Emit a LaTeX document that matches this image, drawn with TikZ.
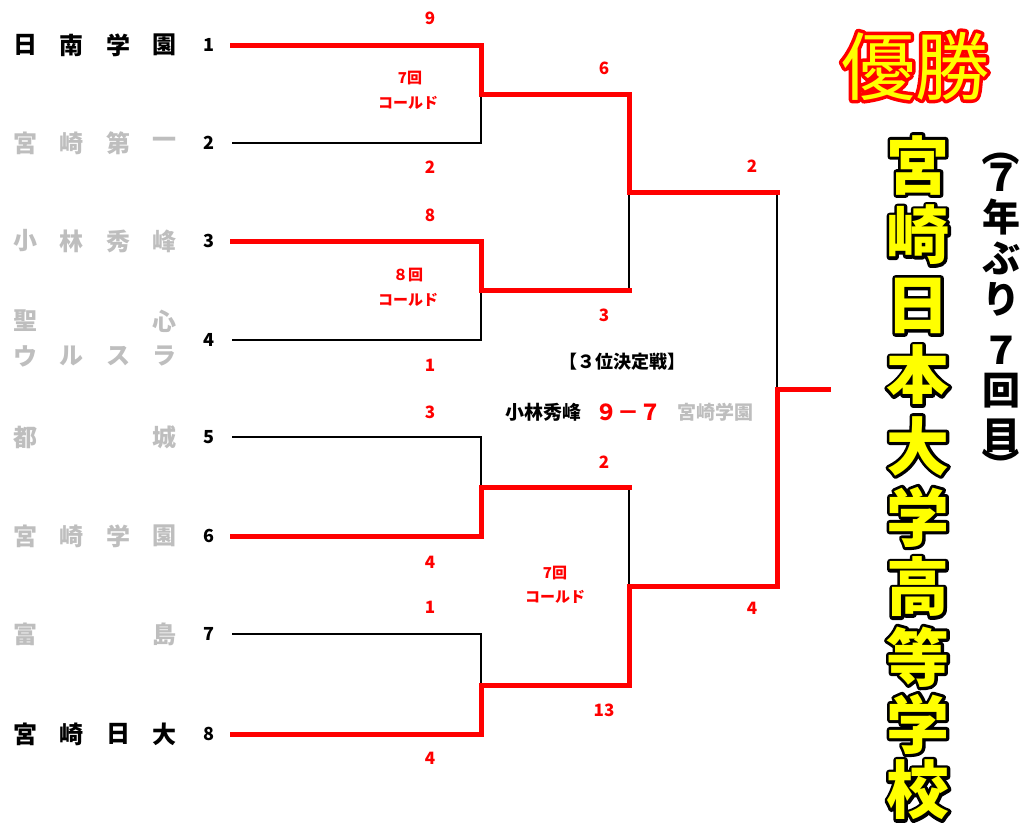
\documentclass[tikz,border=0pt]{standalone}
\usepackage{fontspec}
\newfontfamily\jp{Noto Sans CJK JP}
\usetikzlibrary{calc}
\definecolor{lg}{RGB}{190,190,190}
\definecolor{rd}{RGB}{255,0,0}
\definecolor{yl}{RGB}{255,255,0}
\definecolor{shd}{RGB}{200,200,200}
\tikzset{
  team/.style={font=\jp\bfseries\fontsize{24}{24}\selectfont},
  seed/.style={font=\jp\bfseries\fontsize{18}{18}\selectfont},
  score/.style={font=\jp\bfseries\fontsize{17}{17}\selectfont, text=rd},
  cold/.style={font=\jp\bfseries\fontsize{15}{15}\selectfont, text=rd},
  win/.style={line width=5pt, draw=rd, line join=miter, line cap=rect},
  lose/.style={line width=1.5pt, draw=black},
  huge/.style={font=\jp\fontsize{74}{74}\selectfont},
  vert/.style={font=\jp\bfseries\fontsize{63}{63}\selectfont},
  paren/.style={font=\jp\bfseries\fontsize{38}{38}\selectfont},
  third/.style={font=\jp\bfseries\fontsize{19}{19}\selectfont},
}
% stroke-only text: #1 stroke colour (r g b), #2 width, #3 text
\newcommand\strk[3]{\special{pdf:literal direct 1 Tr #2 w 1 j 1 J #1 RG}#3\special{pdf:literal direct 0 Tr}}
\begin{document}
\begin{tikzpicture}[x=1pt,y=-1pt, every node/.style={inner sep=0pt, font=\jp}]
\useasboundingbox[fill=white] (0,0) rectangle (1025,830);

% ---- team names ----
\foreach \c/\x [count=\i] in {日/25,南/71,学/118,園/164}{\node[team] (ta\i) at (\x,45) {\c};}
\foreach \c/\x [count=\i] in {宮/25,崎/71,第/118,一/164}{\node[team,text=lg] (tb\i) at (\x,143) {\c};}
\foreach \c/\x [count=\i] in {小/25,林/71,秀/118,峰/164}{\node[team,text=lg] (tc\i) at (\x,241) {\c};}
\foreach \c/\x [count=\i] in {聖/25,心/164}{\node[team,text=lg] (td\i) at (\x,321) {\c};}
\foreach \c/\x [count=\i] in {ウ/25,ル/71,ス/118,ラ/164}{\node[team,text=lg] (te\i) at (\x,356) {\c};}
\foreach \c/\x [count=\i] in {都/25,城/164}{\node[team,text=lg] (tf\i) at (\x,437) {\c};}
\foreach \c/\x [count=\i] in {宮/25,崎/71,学/118,園/164}{\node[team,text=lg] (tg\i) at (\x,536) {\c};}
\foreach \c/\x [count=\i] in {富/25,島/164}{\node[team,text=lg] (th\i) at (\x,634) {\c};}
\foreach \c/\x [count=\i] in {宮/25,崎/71,日/118,大/164}{\node[team] (ti\i) at (\x,734) {\c};}

% ---- seed numbers and line starts ----
\foreach \n/\y in {1/45,2/143,3/241,4/340,5/437,6/536,7/634,8/734}{
  \node[seed] (n\n) at (209,\y) {\n};
  \coordinate (s\n) at (232,\y);
  \coordinate (m\n) at (481,\y);
}
\coordinate (j1) at (481,94);  \coordinate (r1) at (629,94);
\coordinate (j2) at (481,290); \coordinate (r2) at (629,290);
\coordinate (j3) at (481,487); \coordinate (r3) at (629,487);
\coordinate (j4) at (481,685); \coordinate (r4) at (629,685);
\coordinate (k1) at (629,192); \coordinate (f1) at (777,192);
\coordinate (k2) at (629,586); \coordinate (f2) at (777,586);
\coordinate (fm) at (777,389); \coordinate (ch) at (828,389);

% ---- losing lines ----
\draw[lose] (s2) -- (m2) -- (j1);
\draw[lose] (s4) -- (m4) -- (j2);
\draw[lose] (s5) -- (m5) -- (j3);
\draw[lose] (s7) -- (m7) -- (j4);
\draw[lose] (r2) -- (k1);
\draw[lose] (r3) -- (k2);
\draw[lose] (f1) -- (fm);

% ---- winning lines ----
\draw[win] (s1) -- (m1) -- (j1) -- (r1) -- (k1) -- (f1);
\draw[win] (s3) -- (m3) -- (j2) -- (r2);
\draw[win] (s6) -- (m6) -- (j3) -- (r3);
\draw[win] (s8) -- (m8) -- (j4) -- (r4) -- (k2) -- (f2) -- (fm) -- (ch);

% ---- scores ----
\node[score] (sc1) at (430,18) {9};
\node[score] (sc2) at (430,167) {2};
\node[score] (sc3) at (430,215) {8};
\node[score] (sc4) at (430,365) {1};
\node[score] (sc5) at (430,412) {3};
\node[score] (sc6) at (430,562) {4};
\node[score] (sc7) at (430,607) {1};
\node[score] (sc8) at (430,758) {4};
\node[score] (sc9) at (604,68) {6};
\node[score] (sc10) at (604,315) {3};
\node[score] (sc11) at (604,462) {2};
\node[score] (sc12) at (604,710) {13};
\node[score] (sc13) at (752,166) {2};
\node[score] (sc14) at (752,608) {4};

\node[cold] (c1a) at (410,78) {7回};
\node[cold] (c1b) at (408,103) {コールド};
\node[cold] (c2a) at (408,275) {８回};
\node[cold] (c2b) at (408,300) {コールド};
\node[cold] (c3a) at (555,573) {7回};
\node[cold] (c3b) at (555,597) {コールド};

% ---- third place ----
\node[third,font=\jp\bfseries\fontsize{18}{18}\selectfont] (tp) at (622,362) {【３位決定戦】};
\node[third] (tpa) at (543,412) {小林秀峰};
\node[third,text=rd,font=\jp\bfseries\fontsize{22}{22}\selectfont] (tps) at (628,412) {９－７};
\node[third,text=lg] (tpb) at (715,412) {宮崎学園};

% ---- title ----
\node[huge, text=rd] (yushoo) at (915,66) {\strk{1 0 0}{7}{優勝}};
\node[huge, text=yl] (yusho) at (915,66) {優勝};

% ---- champion vertical ----
\foreach \c/\y [count=\i] in {宮/165,崎/235,日/306,本/375,大/446,学/517,高/587,等/657,学/724,校/790}{
  \node[vert] (wo\i) at (918,\y) {\strk{0 0 0}{6}{\c}};
  \node[vert, text=yl] (w\i) at (918,\y) {\c};
}

% ---- (7年ぶり7回目) ----
\node[paren,rotate=-90] (pa) at (1001,147) {（};
\foreach \c/\y [count=\i] in {７/177,年/217,ぶ/258,り/299,７/350,回/391,目/436}{
  \node[paren] (q\i) at (1001,\y) {\c};
}
\node[paren,rotate=-90] (pb) at (1001,466) {）};
\end{tikzpicture}
\end{document}
